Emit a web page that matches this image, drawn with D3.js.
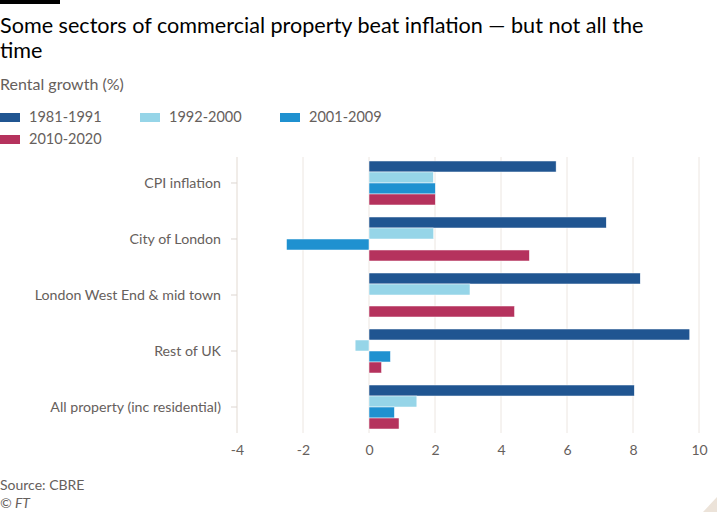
<!DOCTYPE html>
<html>
<head>
<meta charset="utf-8">
<script src="https://cdn.jsdelivr.net/npm/d3@7"></script>
<style>
  body { margin: 0; background: #fff; }
  svg { display: block; font-family: Lato, "Open Sans", sans-serif; }
</style>
</head>
<body>
<div id="chart"></div>
<script>
// data
var categories = ["CPI inflation", "City of London", "London West End & mid town", "Rest of UK", "All property (inc residential)"];
var periods = ["1981-1991", "1992-2000", "2001-2009", "2010-2020"];
var s1981 = [5.67, 7.19, 8.22, 9.72, 8.04];
var s1992 = [1.95, 1.96, 3.06, -0.42, 1.45];
var s2001 = [2.01, -2.5, 0, 0.65, 0.77];
var s2010 = [2.01, 4.86, 4.41, 0.38, 0.91];
var xTicks = [-4, -2, 0, 2, 4, 6, 8, 10];

var colours = ["#205591", "#96d5e8", "#1f91d0", "#b5325d"];
var seriesVals = [s1981, s1992, s2001, s2010];

var width = 717, height = 512;
var svg = d3.select("#chart").append("svg")
    .attr("width", width)
    .attr("height", height);

// top bar + title
svg.append("rect").attr("x", 0).attr("y", 0).attr("width", 60).attr("height", 4).attr("fill", "#000");
var title = svg.append("text").attr("fill", "#000").style("font-size", "21.6px");
title.append("tspan").attr("x", 0).attr("y", 32.5).text("Some sectors of commercial property beat inflation — but not all the");
title.append("tspan").attr("x", 0).attr("y", 58).text("time");

svg.append("text").attr("x", 0).attr("y", 90)
    .attr("fill", "#66605c").style("font-size", "16px")
    .text("Rental growth (%)");

// legend
var legendPos = [[0, 117], [140, 117], [280, 117], [0, 139]];
var lg = svg.selectAll("g.leg")
    .data(periods)
    .enter()
    .append("g")
    .attr("class", "leg")
    .attr("transform", function (d, i) { return "translate(" + legendPos[i][0] + "," + legendPos[i][1] + ")"; });
lg.append("rect")
    .attr("x", 0).attr("y", -4).attr("width", 20).attr("height", 9)
    .attr("fill", function (d, i) { return colours[i]; });
lg.append("text")
    .attr("x", 29).attr("y", 5)
    .attr("fill", "#66605c").style("font-size", "14.5px")
    .text(function (d) { return d; });

// scales
var x = d3.scaleLinear().domain([-4, 10]).range([237, 699]);
var y = d3.scaleBand().domain(categories).range([155, 435]).paddingInner(0.2143).paddingOuter(0.107);
var yInner = d3.scaleBand().domain(periods).range([0, y.bandwidth()]);

// gridlines
svg.append("g").selectAll("line")
    .data(xTicks)
    .enter()
    .append("line")
    .attr("x1", function (d) { return x(d); })
    .attr("x2", function (d) { return x(d); })
    .attr("y1", 157).attr("y2", 433)
    .attr("stroke", "#ece6e1").attr("stroke-width", 1);

// x axis labels
svg.append("g")
    .attr("transform", "translate(0,433)")
    .call(d3.axisBottom(x).tickValues(xTicks).tickSize(0).tickPadding(12).tickFormat(d3.format("d")))
    .call(function (g) {
        g.select(".domain").remove();
        g.selectAll("text").attr("fill", "#66605c").style("font-size", "14px")
            .style("font-family", "Lato, 'Open Sans', sans-serif")
            .text(function (d) { return d < 0 ? "-" + Math.abs(d) : d; });
    });

// y axis
svg.append("g")
    .attr("transform", "translate(" + x(-4) + ",0)")
    .call(d3.axisLeft(y).tickSize(6).tickPadding(10))
    .call(function (g) {
        g.select(".domain").attr("stroke", "#ece6e1").attr("d", "M0,157V433");
        g.selectAll(".tick line").attr("stroke", "#ddd6d1");
        g.selectAll("text").attr("fill", "#66605c").style("font-size", "14.2px")
            .style("font-family", "Lato, 'Open Sans', sans-serif");
    });

// bars
var groups = svg.append("g").selectAll("g")
    .data(categories)
    .enter()
    .append("g")
    .attr("transform", function (d) { return "translate(0," + y(d) + ")"; });

groups.selectAll("rect")
    .data(function (d, ci) {
        return periods.map(function (p, si) { return { period: p, value: seriesVals[si][ci], si: si }; });
    })
    .enter()
    .append("rect")
    .attr("x", function (d) { return x(Math.min(0, d.value)); })
    .attr("y", function (d) { return yInner(d.period); })
    .attr("width", function (d) { return Math.abs(x(d.value) - x(0)); })
    .attr("height", yInner.bandwidth())
    .attr("fill", function (d) { return colours[d.si]; })
    .attr("stroke", "#fff").attr("stroke-width", 0.5)
    .style("display", function (d) { return d.value === 0 ? "none" : null; });

// footer
svg.append("text").attr("x", 0).attr("y", 490)
    .attr("fill", "#66605c").style("font-size", "14px")
    .text("Source: CBRE");
svg.append("text").attr("x", 0).attr("y", 508)
    .attr("fill", "#66605c").style("font-size", "14px").style("font-style", "italic")
    .text("© FT");

svg.append("path")
    .attr("d", "M717,497L717,512L703,512Z")
    .attr("fill", "#ece3d9");
</script>
</body>
</html>
